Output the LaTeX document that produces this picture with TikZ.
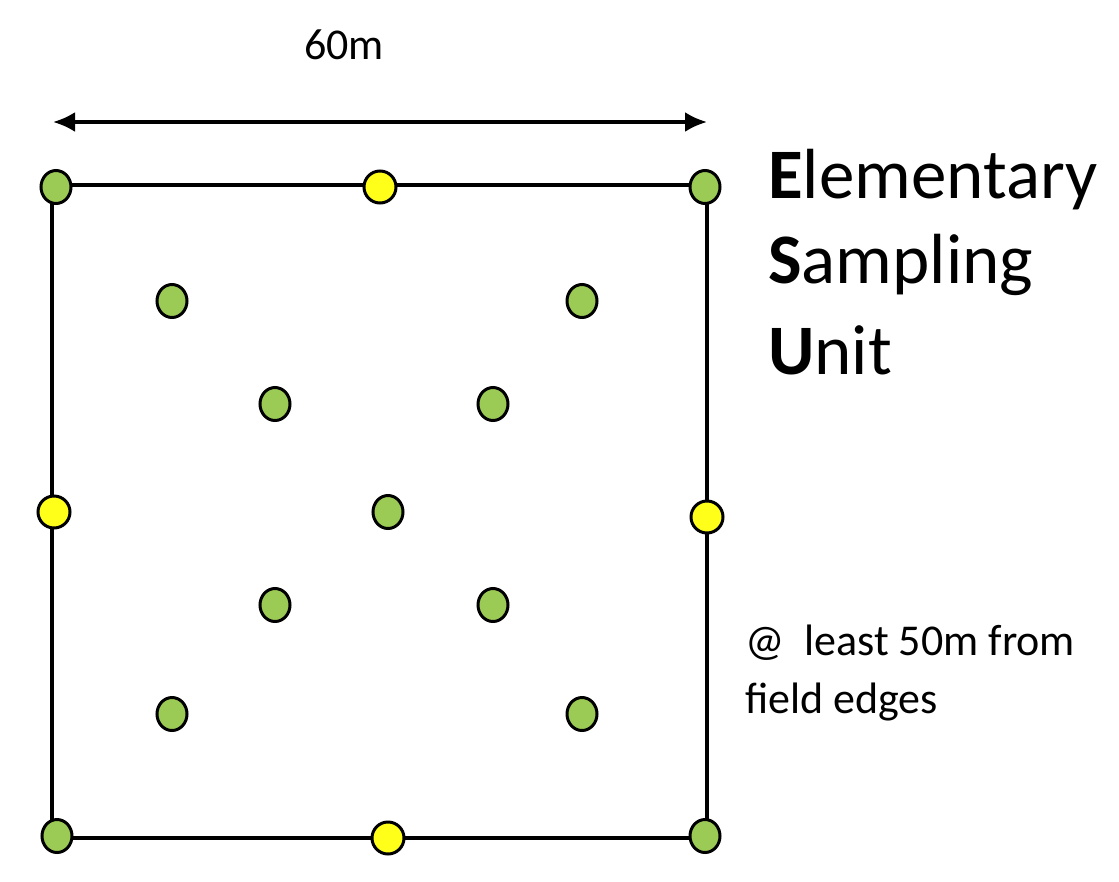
\documentclass[tikz,border=0pt]{standalone}
\usepackage{fontspec}
\setmainfont{Carlito}
\usetikzlibrary{shapes.geometric,arrows.meta}
\definecolor{pg}{HTML}{9BCB55}
\definecolor{py}{HTML}{FFFF1A}
\begin{document}
\begin{tikzpicture}[x=1pt,y=-1pt,
  gdot/.style={ellipse,draw=black,line width=3pt,fill=pg,minimum width=30pt,minimum height=33pt,inner sep=0pt},
  ydot/.style={ellipse,draw=black,line width=3pt,fill=py,minimum width=32pt,minimum height=32pt,inner sep=0pt},
  lbl/.style={anchor=west,inner sep=0pt,align=left}]
\useasboundingbox (0,0) rectangle (1119,881);
\coordinate (tl) at (52,185); \coordinate (tr) at (707,185);
\coordinate (br) at (707,838); \coordinate (bl) at (52,838);
\draw[line width=3.5pt] (tl) -- (tr) -- (br) -- (bl) -- cycle;
\coordinate (al) at (53,122); \coordinate (ar) at (707,122);
\coordinate (am) at (380,122);
\draw[line width=3.5pt,-{Latex[length=22pt,width=20pt]}] (am) -- (al);
\draw[line width=3.5pt,-{Latex[length=22pt,width=20pt]}] (am) -- (ar);
\node[inner sep=0pt,font=\fontsize{44}{48}\selectfont] (w) at (344,45) {60m};
\foreach \n/\x/\y in {c1/56/187,c2/705/187,c3/57/836,c4/705/836,g1/172/301,g2/582/301,g3/275/404,g4/493/404,g5/388/512,g6/275/605,g7/493/605,g8/172/714,g9/582/714}
  \node[gdot] (\n) at (\x,\y) {};
\foreach \n/\x/\y in {y1/380/187,y2/54/512,y3/707/517,y4/388/838}
  \node[ydot] (\n) at (\x,\y) {};
\node[lbl,font=\fontsize{71}{70}\selectfont] (e) at (768,180) {\textbf{E}lementary};
\node[lbl,font=\fontsize{71}{70}\selectfont] (s) at (768,265) {\textbf{S}ampling};
\node[lbl,font=\fontsize{71}{70}\selectfont] (u) at (768,350) {\textbf{U}nit};
\node[lbl,font=\fontsize{44}{58}\selectfont] (t) at (745,673) {@\ \ least 50m from\\field edges};
\end{tikzpicture}
\end{document}
